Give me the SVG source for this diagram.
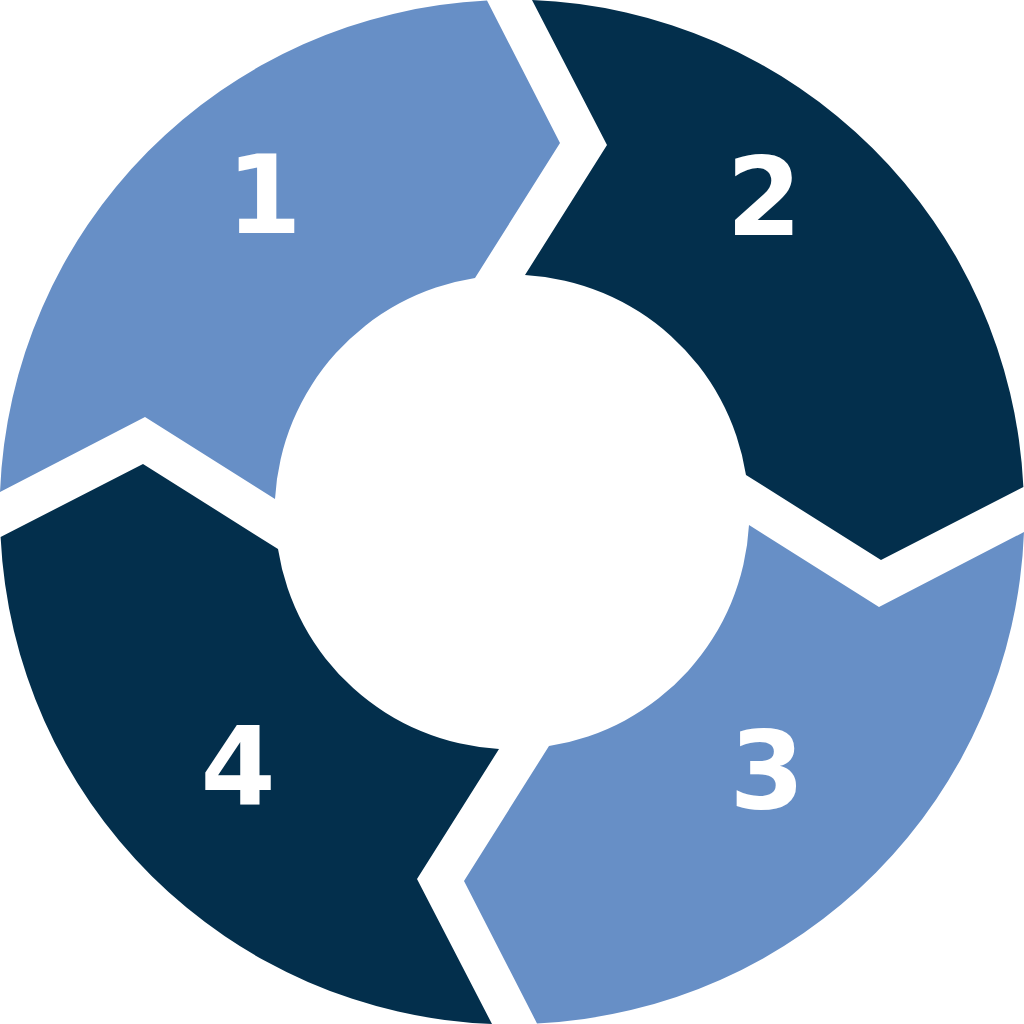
<svg xmlns="http://www.w3.org/2000/svg" width="1024" height="1024" viewBox="0 0 1024 1024">
  <style>
    .light { fill: #678FC6; }
    .dark { fill: #032F4C; }
    .num { fill: #FFFFFF; font-family: "DejaVu Sans", "Liberation Sans", sans-serif; font-weight: bold; font-size: 108px; text-anchor: middle; }
  </style>
  <defs>
    <path id="seg" d="M 487,0.6 L 560,143 L 475,278 A 237 237 0 0 0 275,499 L 145,417 L 0,492 A 512 512 0 0 1 487,0.6 Z"/>
  </defs>
  <rect width="1024" height="1024" fill="#FFFFFF"/>
  <g id="step1">
    <use href="#seg" class="light"/>
    <text class="num" x="264" y="233">1</text>
  </g>
  <g id="step2">
    <use href="#seg" class="dark" transform="rotate(90 512 512)"/>
    <text class="num" x="764" y="235">2</text>
  </g>
  <g id="step3">
    <use href="#seg" class="light" transform="rotate(180 512 512)"/>
    <text class="num" x="767" y="808">3</text>
  </g>
  <g id="step4">
    <use href="#seg" class="dark" transform="rotate(270 512 512)"/>
    <text class="num" x="238" y="804">4</text>
  </g>
  <g id="connectors"/>
</svg>
